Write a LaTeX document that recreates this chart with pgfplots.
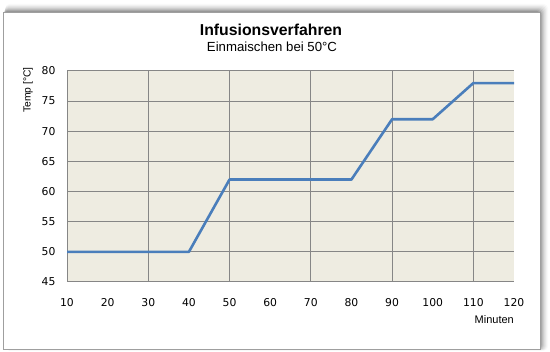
\documentclass[border=0pt]{standalone}
\usepackage{pgfplots}
\pgfplotsset{compat=1.18}
\usepackage{fontspec}
\setmainfont{Liberation Sans}
\newfontfamily\tickfont{DejaVu Sans}
\definecolor{plotbg}{HTML}{EEECE1}
\definecolor{gridc}{HTML}{868686}
\definecolor{linec}{HTML}{4A7EBB}
\begin{document}
\begin{tikzpicture}
\useasboundingbox (0pt,0pt) rectangle (550pt,352pt);
\foreach \i/\o in {1/0.12,2/0.10,3/0.08,4/0.06,5/0.05,6/0.04,7/0.03,8/0.02} {
  \fill[black,opacity=\o,rounded corners=4pt] (3pt+\i*0.3pt,3pt-\i*0.2pt) rectangle (540pt+\i*1pt,340pt+\i*1pt);
}
\fill[white] (3pt,3pt) rectangle (540pt,340pt);
\draw[gray!75, line width=0.8pt] (3pt,3pt) rectangle (540pt,340pt);
\begin{axis}[
  at={(67pt,70pt)}, anchor=south west,
  scale only axis, width=447pt, height=211pt,
  xmin=10, xmax=120, ymin=45, ymax=80,
  xtick={10,20,...,120}, ytick={45,50,...,80},
  axis background/.style={fill=plotbg},
  axis lines=left,
  axis line style={-, draw=gridc, line width=1pt},
  ymajorgrids,
  grid style={draw=gridc, line width=1pt},
  extra x ticks={30,50,70,90,110},
  extra x tick labels={},
  extra x tick style={xmajorgrids=true, grid style={draw=gridc, line width=1pt}},
  major tick length=0pt,
  tick style={draw=none},
  /pgf/number format/assume math mode=true,
  xticklabel style={font=\tickfont\fontsize{10.8}{12}\selectfont, yshift=-13pt},
  yticklabel style={font=\tickfont\fontsize{10.8}{12}\selectfont, xshift=-8pt},
  clip=false,
]
\addplot[linec, line width=2.6pt, line join=round] coordinates {
  (10,50) (40,50) (50,62) (80,62) (90,72) (100,72) (110,78) (120,78)
};
\end{axis}
\node[font=\bfseries\fontsize{15.8}{18}\selectfont] at (271pt,322pt) {Infusionsverfahren};
\node[font=\fontsize{13.2}{15}\selectfont] at (272pt,305pt) {Einmaischen bei 50°C};
\node[rotate=90, font=\fontsize{10.3}{12}\selectfont] at (28pt,262pt) {Temp [°C]};
\node[anchor=east, font=\fontsize{11}{13}\selectfont, inner sep=0pt] at (514pt,32pt) {Minuten};
\end{tikzpicture}
\end{document}
